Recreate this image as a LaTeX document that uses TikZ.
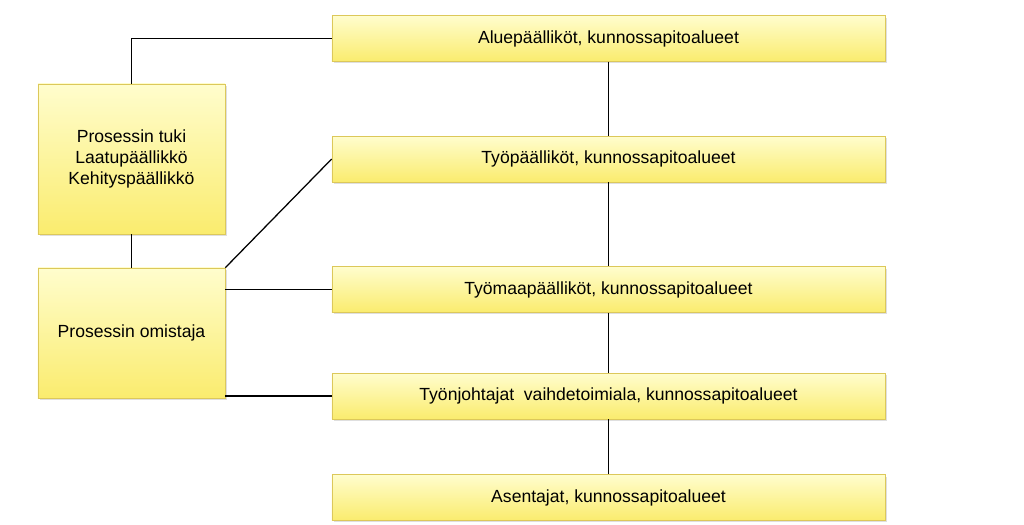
\documentclass[tikz,border=0pt]{standalone}
\usepackage{fontspec}
\setmainfont{Liberation Sans}
\usetikzlibrary{positioning, shadows}
\definecolor{boxtop}{RGB}{255,253,205}
\definecolor{boxbot}{RGB}{250,236,110}
\definecolor{boxline}{RGB}{220,200,90}
\tikzset{
    orgbox/.style={draw=boxline, top color=boxtop, bottom color=boxbot,
      minimum width=13.825cm, minimum height=1.14cm, inner sep=0pt,
      font=\fontsize{12.5}{15}\selectfont, align=center,
      drop shadow={shadow xshift=0.05cm, shadow yshift=-0.05cm, opacity=0.25}},
    sidebox/.style={orgbox, minimum width=4.675cm},
    link/.style={line width=0.9pt, black},
}
\begin{document}
\begin{tikzpicture}[x=0.025cm, y=-0.025cm]
    \useasboundingbox (0,0) rectangle (1024,525);

    \node[orgbox] (alue) at (608.5,38.5) {Aluepäälliköt, kunnossapitoalueet};
    \node[orgbox] (tyop) at (608.5,159) {Työpäälliköt, kunnossapitoalueet};
    \node[orgbox] (tyom) at (608.5,289.5) {Työmaapäälliköt, kunnossapitoalueet};
    \node[orgbox] (johto) at (608.5,396) {Työnjohtajat\ \ vaihdetoimiala, kunnossapitoalueet};
    \node[orgbox] (asent) at (608.5,497.5) {Asentajat, kunnossapitoalueet};

    \node[sidebox, minimum height=3.75cm] (tuki) at (131.5,159) {Prosessin tuki\\Laatupäällikkö\\Kehityspäällikkö};
    \node[sidebox, minimum height=3.25cm] (omist) at (131.5,333) {Prosessin omistaja};

    \draw[link] (tuki.north) |- (alue.west);
    \draw[link] (tuki) -- (omist);
    \draw[link] (omist.north east) -- (tyop.west);
    \draw[link] (omist.east |- tyom.west) -- (tyom.west);
    \draw[link] (omist.east |- johto.west) -- (johto.west);

    \draw[link] (alue) -- (tyop);
    \draw[link] (tyop) -- (tyom);
    \draw[link] (tyom) -- (johto);
    \draw[link] (johto) -- (asent);
\end{tikzpicture}
\end{document}
